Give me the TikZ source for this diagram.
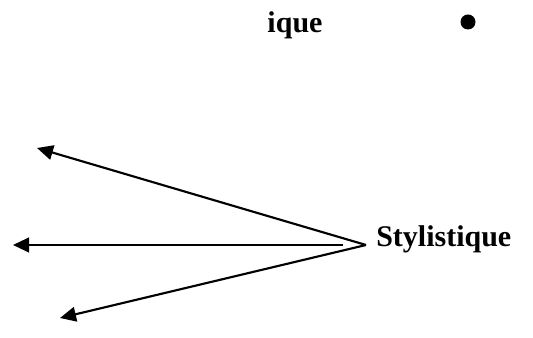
\documentclass[tikz,border=0pt]{standalone}
\usepackage{fontspec}
\setmainfont{Liberation Serif}
\usetikzlibrary{arrows.meta}

\begin{document}
\begin{tikzpicture}[x=0.75pt, y=0.75pt, font=\bfseries\fontsize{22.5}{27}\selectfont,
        pointer/.style={line width=1.6pt, -{Triangle[length=12pt, width=11pt]}}]
        \useasboundingbox (0,0) rectangle (533,338);
        \node[anchor=base] (ique) at (295,305) {ique};
        \fill[black] (468,316) circle (7.5) coordinate (dot);
        \node[anchor=base west, inner sep=0pt] (stylistique) at (376,91) {Stylistique};
        \coordinate (apex) at (366,93);
        \coordinate (mid) at (343,93);
        \coordinate (tipA) at (37,190);
        \coordinate (tipB) at (13,93);
        \coordinate (tipC) at (60,20);
        \draw[pointer] (apex) -- (tipA);
        \draw[pointer] (mid) -- (tipB);
        \draw[pointer] (apex) -- (tipC);
    \end{tikzpicture}
\end{document}
